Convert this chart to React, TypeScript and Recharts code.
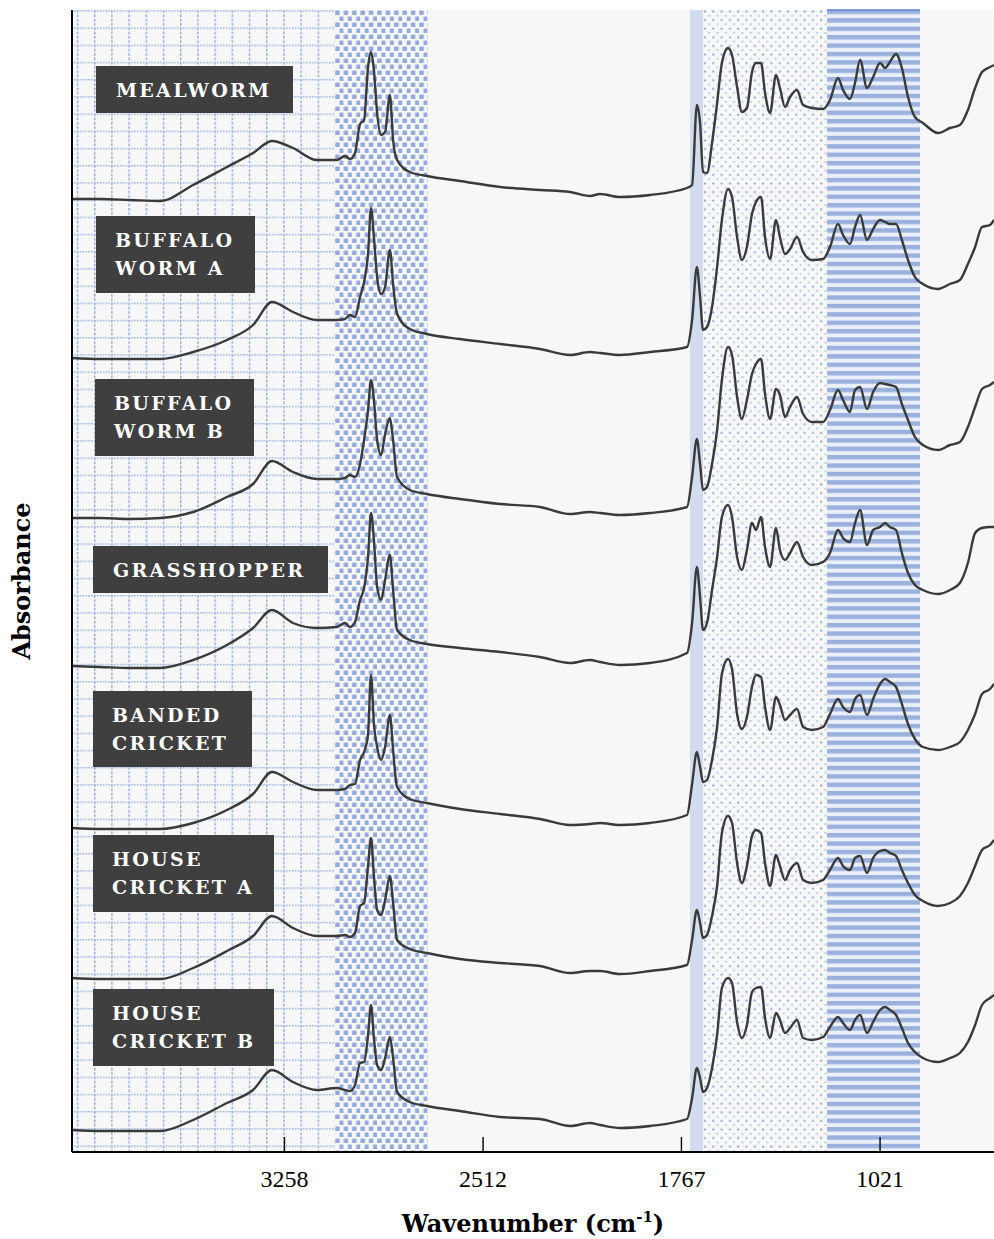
import React from 'react';
import { LineChart, Line, XAxis, YAxis, ReferenceArea, ReferenceLine, Label } from 'recharts';

// wavenumber grid (cm-1) the spectra were read at
const WAVENUMBERS = [
  4056, 3951, 3838, 3725, 3601, 3474, 3376, 3305, 3226, 3136,
  3061, 3031, 3012, 2993, 2974, 2959, 2944, 2933, 2922, 2910,
  2895, 2880, 2862, 2850, 2835, 2787, 2723, 2599, 2448, 2298,
  2185, 2110, 2073, 1998, 1885, 1746, 1727, 1709, 1697, 1686,
  1671, 1652, 1633, 1615, 1592, 1577, 1558, 1540, 1521, 1502,
  1487, 1468, 1453, 1434, 1412, 1397, 1378, 1359, 1333, 1310,
  1277, 1235, 1209, 1179, 1160, 1134, 1115, 1096, 1070, 1047,
  1021, 1002, 984, 961, 939, 916, 890, 860, 803, 758,
  721, 691, 664, 638, 608, 593,
];

// absorbance (mAU, above each trace's own baseline)
const MEALWORM = [
  0, 0, -1, -2, 14, 32, 46, 58, 51, 39,
  39, 43, 40, 46, 75, 79, 132, 147, 129, 86,
  64, 67, 104, 59, 39, 27, 23, 18, 12, 9,
  7, 3, 5, 2, 4, 11, 14, 94, 76, 27,
  26, 56, 96, 136, 151, 144, 112, 87, 91, 127,
  136, 136, 106, 86, 124, 111, 92, 102, 109, 94,
  91, 90, 99, 121, 109, 100, 116, 139, 111, 122,
  136, 131, 137, 145, 131, 102, 82, 76, 66, 71,
  74, 89, 111, 127, 132, 134,
];
const BUFFALO_A = [
  0, -1, -1, -1, 6, 18, 33, 56, 46, 38,
  38, 39, 43, 41, 61, 76, 104, 150, 121, 81,
  64, 71, 108, 74, 44, 29, 24, 19, 14, 9,
  3, 6, 5, 3, 6, 11, 38, 91, 61, 28,
  31, 51, 91, 138, 169, 161, 121, 98, 111, 144,
  156, 161, 121, 99, 138, 121, 104, 109, 121, 106,
  98, 99, 111, 134, 123, 114, 131, 143, 118, 129,
  138, 136, 134, 134, 118, 98, 81, 74, 69, 74,
  78, 94, 111, 131, 133, 138,
];
const BUFFALO_B = [
  0, 0, -1, 0, 6, 21, 34, 57, 46, 39,
  39, 40, 43, 41, 54, 78, 108, 138, 118, 78,
  63, 84, 100, 78, 41, 28, 24, 19, 14, 11,
  4, 6, 5, 3, 5, 11, 41, 79, 54, 28,
  31, 54, 88, 138, 171, 163, 121, 99, 118, 144,
  154, 159, 124, 99, 129, 123, 101, 111, 121, 104,
  96, 96, 108, 128, 118, 106, 128, 131, 109, 126,
  135, 134, 133, 131, 114, 98, 81, 73, 68, 73,
  76, 91, 111, 129, 133, 136,
];
const GRASSHOPPER = [
  0, -1, -2, -2, 6, 21, 38, 56, 43, 38,
  39, 43, 39, 44, 66, 78, 109, 153, 126, 79,
  66, 86, 111, 76, 36, 26, 22, 18, 14, 9,
  3, 6, 4, 1, 3, 13, 43, 99, 69, 36,
  43, 76, 109, 149, 161, 149, 109, 96, 116, 143,
  136, 149, 119, 99, 138, 116, 106, 113, 124, 109,
  101, 104, 113, 136, 128, 124, 143, 156, 121, 136,
  139, 143, 139, 136, 113, 93, 81, 76, 72, 76,
  83, 103, 133, 138, 139, 139,
];
const BANDED_CRICKET = [
  0, -1, -1, -1, 5, 18, 34, 56, 46, 38,
  38, 39, 43, 44, 68, 76, 94, 153, 104, 81,
  68, 81, 113, 78, 41, 29, 25, 19, 14, 9,
  3, 4, 5, 3, 5, 13, 44, 76, 61, 46,
  48, 68, 101, 154, 169, 159, 114, 99, 111, 141,
  153, 151, 121, 98, 131, 123, 108, 113, 119, 101,
  98, 101, 114, 129, 121, 116, 129, 133, 113, 129,
  144, 149, 146, 141, 124, 104, 89, 81, 78, 81,
  86, 98, 114, 134, 139, 144,
];
const HOUSE_CRICKET_A = [
  0, -1, -1, -1, 10, 27, 42, 62, 50, 42,
  42, 43, 41, 45, 72, 75, 112, 140, 102, 68,
  63, 78, 102, 75, 38, 29, 25, 19, 15, 12,
  5, 7, 7, 4, 7, 13, 38, 68, 55, 40,
  43, 62, 92, 145, 162, 155, 115, 95, 112, 142,
  148, 145, 115, 92, 123, 112, 98, 108, 115, 98,
  95, 98, 108, 120, 112, 108, 120, 122, 105, 120,
  127, 128, 125, 122, 108, 95, 83, 77, 72, 75,
  82, 95, 112, 128, 133, 138,
];
const HOUSE_CRICKET_B = [
  0, -1, -1, -1, 10, 27, 40, 60, 48, 40,
  42, 40, 39, 45, 67, 68, 95, 125, 92, 65,
  60, 72, 93, 72, 38, 28, 24, 19, 13, 11,
  4, 7, 5, 2, 4, 11, 32, 62, 52, 38,
  42, 62, 95, 142, 152, 147, 108, 92, 105, 138,
  142, 143, 112, 92, 117, 110, 97, 102, 110, 92,
  90, 93, 103, 113, 107, 100, 110, 115, 97, 108,
  120, 123, 120, 115, 102, 87, 78, 72, 68, 72,
  77, 88, 105, 125, 132, 135,
];

const SPECTRA = [MEALWORM, BUFFALO_A, BUFFALO_B, GRASSHOPPER, BANDED_CRICKET, HOUSE_CRICKET_A, HOUSE_CRICKET_B];
// vertical stacking offset of each trace (mAU)
const OFFSETS = [953, 794, 634, 486, 324, 174, 22];
const NAMES = ['MEALWORM', 'BUFFALO\nWORM A', 'BUFFALO\nWORM B', 'GRASSHOPPER', 'BANDED\nCRICKET', 'HOUSE\nCRICKET A', 'HOUSE\nCRICKET B'];

const X_TICKS = [3258, 2512, 1767, 1021];
const X_DOMAIN = [593, 4056];
const Y_DOMAIN = [0, 1142];

// band regions (cm-1)
const BANDS = [
  { x1: 4056, x2: 3068, fill: 'url(#pGrid)' },
  { x1: 3068, x2: 2719, fill: 'url(#pCheck)' },
  { x1: 1735, x2: 1686, fill: '#d2dcee' },
  { x1: 1686, x2: 1220, fill: 'url(#pDots)' },
  { x1: 1220, x2: 871, fill: 'url(#pStripe)' },
];

// label box placement (px, page coords)
const BOX_LAYOUT = [
  { left: 96, top: 66, width: 197, height: 47 },
  { left: 96, top: 216, width: 159, height: 77 },
  { left: 95, top: 379, width: 159, height: 77 },
  { left: 93, top: 546, width: 235, height: 47 },
  { left: 93, top: 691, width: 159, height: 76 },
  { left: 93, top: 835, width: 181, height: 77 },
  { left: 93, top: 989, width: 181, height: 77 },
];

const chartData = WAVENUMBERS.map((w, i) => {
  const row: any = { w };
  SPECTRA.forEach((s, k) => { row[`s${k}`] = OFFSETS[k] + s[i]; });
  return row;
});

const BOLD = '"DejaVu Serif", serif';

const XTick = ({ x, y, payload }: any) => (
  <g>
    <line x1={x} x2={x} y1={y} y2={y - 15} stroke="#000" strokeWidth={1.4} />
    <text x={x} y={y + 35} textAnchor="middle" fontFamily='"Liberation Serif", serif' fontSize={24} fill="#000">
      {payload.value}
    </text>
  </g>
);

const XTitle = ({ viewBox }: any) => (
  <text x={viewBox.x + viewBox.width / 2} y={viewBox.y + 80} textAnchor="middle" fontFamily={BOLD} fontWeight="bold" fontSize={24} fill="#000">
    Wavenumber (cm<tspan dy={-10} fontSize={15}>-1</tspan><tspan dy={10}>)</tspan>
  </text>
);

const YTitle = ({ viewBox }: any) => {
  const x = viewBox.x + 30;
  const y = viewBox.y + viewBox.height / 2;
  return (
    <text x={x} y={y} transform={`rotate(-90, ${x}, ${y})`} textAnchor="middle" fontFamily={BOLD} fontWeight="bold" fontSize={24} fill="#000">
      Absorbance
    </text>
  );
};

export default function App() {
  return (
    <div style={{ position: 'absolute', left: 0, top: 0, width: 994, height: 1239, background: '#fff' }}>
      <LineChart width={994} height={1239} data={chartData} margin={{ top: 10, right: 0, bottom: 0, left: 0 }}>
        <defs>
          <pattern id="pGrid" patternUnits="userSpaceOnUse" x={59.6} y={10.2} width={17.2} height={17.2}>
            <rect width={17.2} height={17.2} fill="#f7f7f7" />
            <line x1={0} y1={0.7} x2={17.2} y2={0.7} stroke="#8aa7dd" strokeWidth={1.4} strokeDasharray="1.4 1.5" />
            <line x1={0.7} y1={0} x2={0.7} y2={17.2} stroke="#8aa7dd" strokeWidth={1.4} strokeDasharray="2.6 1.7" />
          </pattern>
          <pattern id="pCheck" patternUnits="userSpaceOnUse" x={335} y={10} width={8.4} height={12}>
            <rect width={8.4} height={12} fill="#f7f7f7" />
            <rect x={0.2} y={0.5} width={4.6} height={4.6} rx={0.9} fill="#93abdc" />
            <rect x={4.4} y={6.5} width={4.6} height={4.6} rx={0.9} fill="#93abdc" />
          </pattern>
          <pattern id="pDots" patternUnits="userSpaceOnUse" x={703} y={10} width={8.3} height={8.6}>
            <rect width={8.3} height={8.6} fill="#f7f7f7" />
            <circle cx={2} cy={1.5} r={1.1} fill="#7f9dd7" />
            <circle cx={6.15} cy={5.8} r={1.1} fill="#b5c6e9" />
          </pattern>
          <pattern id="pStripe" patternUnits="userSpaceOnUse" x={827} y={9.8} width={10} height={8.4}>
            <rect width={10} height={8.4} fill="#eaeff8" />
            <rect y={0} width={10} height={4.4} fill="#9ab1dd" />
          </pattern>
        </defs>
        <ReferenceArea x1={X_DOMAIN[1]} x2={X_DOMAIN[0]} fill="#f7f7f7" fillOpacity={1} stroke="none" />
        {BANDS.map((b, i) => (
          <ReferenceArea key={i} x1={b.x1} x2={b.x2} fill={b.fill} fillOpacity={1} stroke="none" />
        ))}
        <ReferenceLine segment={[{ x: 1220, y: Y_DOMAIN[1] }, { x: 871, y: Y_DOMAIN[1] }]} stroke="#5a7fcf" strokeWidth={1.5} />
        <XAxis
          dataKey="w"
          type="number"
          domain={X_DOMAIN}
          reversed
          allowDataOverflow
          ticks={X_TICKS}
          interval={0}
          height={87}
          tickSize={0}
          tickMargin={0}
          tickLine={false}
          tick={<XTick />}
          axisLine={{ stroke: '#000', strokeWidth: 2 }}
        >
          <Label content={<XTitle />} />
        </XAxis>
        <YAxis
          type="number"
          domain={Y_DOMAIN}
          allowDataOverflow
          width={72}
          tick={false}
          tickLine={false}
          axisLine={{ stroke: '#000', strokeWidth: 2 }}
        >
          <Label content={<YTitle />} />
        </YAxis>
        {SPECTRA.map((_, k) => (
          <Line
            key={k}
            type="monotone"
            dataKey={`s${k}`}
            stroke="#3a3a3a"
            strokeWidth={2.4}
            dot={false}
            isAnimationActive={false}
            strokeLinejoin="round"
          />
        ))}
      </LineChart>
      {NAMES.map((n, i) => (
        <div
          key={n}
          style={{
            position: 'absolute',
            ...BOX_LAYOUT[i],
            boxSizing: 'border-box',
            background: '#3f3f3f',
            color: '#fff',
            fontFamily: BOLD,
            fontWeight: 'bold',
            fontSize: 19,
            letterSpacing: 2.3,
            lineHeight: '28px',
            padding: n.includes('\n') ? '10px 0 0 19px' : '10px 0 0 20px',
            whiteSpace: 'pre',
          }}
        >
          {n}
        </div>
      ))}
    </div>
  );
}
